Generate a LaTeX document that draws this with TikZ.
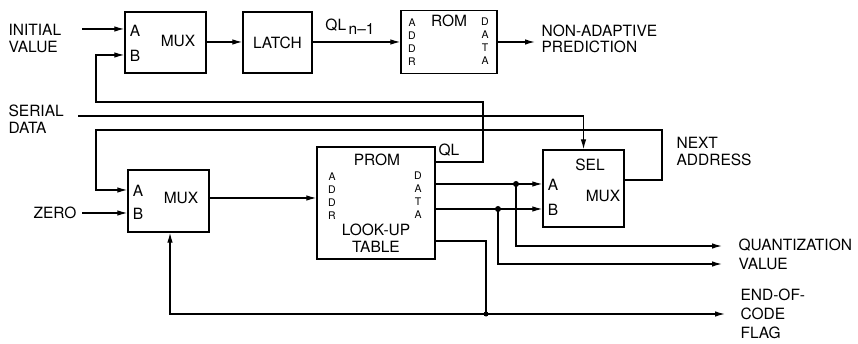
\documentclass[tikz,border=0pt]{standalone}
\usepackage{fontspec}
\setmainfont{TeX Gyre Heros}
\usetikzlibrary{arrows.meta}

\begin{document}
\begin{tikzpicture}[x=1pt, y=-1pt, >={Latex[length=10pt,width=5.5pt]}, line width=1.2pt,
    every node/.style={font=\fontsize{15.5}{17}\selectfont, inner sep=0pt},
    blk/.style={draw, rectangle, line width=1.3pt},
    lbl/.style={anchor=west, align=left},
    tiny/.style={font=\fontsize{10.5}{13}\selectfont, align=center},
    dot/.style={circle, fill, minimum size=6pt}]
    \useasboundingbox (0,0) rectangle (858,344);

    % 1. Bloecke
    \node[blk, minimum width=81pt, minimum height=61pt] (muxa) at (165.5,42.5) {};
    \node[blk, minimum width=69pt, minimum height=61pt] (latch) at (277.5,42.5) {LATCH};
    \node[blk, minimum width=96pt, minimum height=63pt] (rom) at (449,42) {};
    \node[blk, minimum width=81pt, minimum height=62pt] (muxb) at (168.5,201) {};
    \node[blk, minimum width=118pt, minimum height=112pt] (prom) at (376,203) {};
    \node[blk, minimum width=81pt, minimum height=77pt] (sel) at (583.5,188.5) {};

    % 2. Beschriftung in den Bloecken
    \node (muxaA) at (135,31) {A};
    \node (muxaB) at (135,56) {B};
    \node (muxaT) at (178,41) {MUX};
    \node (romT) at (449,21) {ROM};
    \node[tiny] (romAddr) at (412,42) {A\\D\\D\\R};
    \node[tiny] (romData) at (485,41) {D\\A\\T\\A};
    \node (promT) at (377,160) {PROM};
    \node[tiny] (promAddr) at (332,196) {A\\D\\D\\R};
    \node[tiny] (promData) at (418,195) {D\\A\\T\\A};
    \node[align=center] (lut) at (376,238) {LOOK-UP\\TABLE};
    \node (selT) at (590,165) {SEL};
    \node (selM) at (603,196) {MUX};
    \node (selA) at (553,185) {A};
    \node (selB) at (553,210) {B};
    \node (muxbA) at (138,191) {A};
    \node (muxbB) at (138,214) {B};
    \node (muxbT) at (181,198) {MUX};
    \node (ql) at (449,150) {QL};
    \node (qln) at (350,27) {QL\,\raisebox{-4pt}{n--1}};

    % 3. Ein- und Ausgaenge
    \node[lbl] (init) at (8,38) {INITIAL\\VALUE};
    \node[lbl] (serial) at (8,119.5) {SERIAL\\DATA};
    \node[lbl] (zero) at (33,213) {ZERO};
    \node[lbl, font=\fontsize{15.5}{15.5}\selectfont] (nap) at (541,39) {NON-ADAPTIVE\\PREDICTION};
    \node[lbl] (next) at (676,151.5) {NEXT\\ADDRESS};
    \node[lbl] (quant) at (738,245) {QUANTIZATION};
    \node[lbl] (value) at (738,264) {VALUE};
    \node[lbl, font=\fontsize{15.5}{19}\selectfont] (eoc) at (740,314) {END-OF-\\CODE\\FLAG};

    \coordinate (initIn) at (82,29);
    \coordinate (zeroIn) at (82,213);
    \coordinate (serIn) at (78,116);
    \coordinate (napOut) at (535,42);
    \coordinate (fbA) at (483,102);
    \coordinate (fbB) at (96,55);
    \coordinate (naA) at (662,130);
    \coordinate (naB) at (96,190);
    \coordinate (quantOut) at (722,246);
    \coordinate (valueOut) at (722,264);
    \coordinate (eocOut) at (725,314);
    \coordinate (jq) at (516,184);
    \coordinate (jv) at (498,209);
    \coordinate (je) at (486,314);

    % 4. Verbindungen oben
    \draw[->] (initIn) -- (initIn -| muxa.west);
    \draw[->] (muxa.east |- 0,42) -- (latch.west |- 0,42);
    \draw[->] (latch.east |- 0,42) -- (rom.west |- 0,42);
    \draw[->] (rom.east |- napOut) -- (napOut);
    % QL Rueckfuehrung
    \draw[->] (prom.east |- 0,162) -| (fbA) -| (fbB) -- (fbB -| muxa.west);
    % serielle Daten
    \draw[->] (serIn) -| (sel.north);
    % naechste Adresse
    \draw[->] (sel.east |- 0,180) -| (naA) -| (naB) -- (naB -| muxb.west);

    % 5. Verbindungen unten
    \draw[->] (zeroIn) -- (zeroIn -| muxb.west);
    \draw[->] (muxb.east |- 0,198) -- (prom.west |- 0,198);
    \draw[->] (prom.east |- jq) -- (sel.west |- jq);
    \draw[->] (prom.east |- jv) -- (sel.west |- jv);
    \draw[->] (jq) |- (quantOut);
    \draw[->] (jv) |- (valueOut);
    \draw (prom.east |- 0,241) -| (je);
    \draw[->] (je) -- (eocOut);
    \draw[->] (je) -| (muxb.south -| 170,0);
    \node[dot] at (jq) {};
    \node[dot] at (jv) {};
    \node[dot, minimum size=5pt] at (je) {};
\end{tikzpicture}
\end{document}
